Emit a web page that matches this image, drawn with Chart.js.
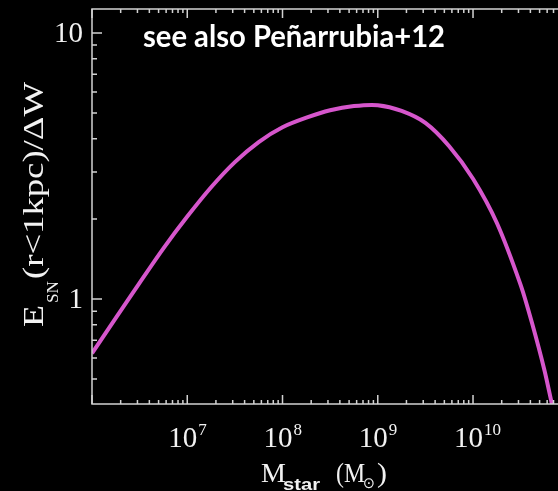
<!DOCTYPE html>
<html>
<head>
<meta charset="utf-8">
<script src="https://cdn.jsdelivr.net/npm/chart.js@4/dist/chart.umd.min.js"></script>
<style>
  html, body { margin: 0; padding: 0; background: #000; }
  #wrap { width: 558px; height: 491px; position: relative; }
</style>
</head>
<body>
<div id="wrap"><canvas id="chart_esn"></canvas></div>
<script>
// stellar mass (Msun) and E_SN(r<1kpc)/dW
var stellarMass = [1e6, 1.78e6, 3.16e6, 5.62e6, 1e7, 1.78e7, 3.16e7, 5.62e7, 1e8, 1.78e8, 3.16e8,
  5.62e8, 1e9, 1.78e9, 3.16e9, 5.62e9, 1e10, 1.78e10, 3.16e10, 4.17e10, 5.62e10, 6.76e10]
var energyRatio = [0.625, 0.85, 1.15, 1.55, 2.04, 2.63, 3.27, 3.89, 4.42, 4.80, 5.12,
  5.31, 5.35, 5.09, 4.59, 3.75, 2.83, 1.93, 1.13, 0.81, 0.54, 0.40]
var xTickLabels = [[1e7, '7'], [1e8, '8'], [1e9, '9'], [1e10, '10']]
var yTickLabels = [10, 1]
var noteText = 'see also Peñarrubia+12'

var axisColor = '#d2d2d2'
var textColor = '#f2f2f2'
var serif = '"Liberation Serif", "DejaVu Serif", serif'

// draw text squeezed or stretched to a given width
function fitText(ctx, str, x, y, w) {
  var m = ctx.measureText(str).width
  ctx.save()
  ctx.translate(x, y)
  ctx.scale(w / m, 1)
  ctx.fillText(str, 0, 0)
  ctx.restore()
}

var framePlugin = {
  id: 'frame',
  afterDraw: function (chart) {
    var ctx = chart.ctx
    var a = chart.chartArea
    var xs = chart.scales.x
    var ys = chart.scales.y
    ctx.save()
    ctx.strokeStyle = axisColor
    ctx.lineWidth = 1.5
    ctx.beginPath()
    ctx.moveTo(a.right + 2, a.top); ctx.lineTo(a.left, a.top)
    ctx.lineTo(a.left, a.bottom); ctx.lineTo(a.right + 2, a.bottom)
    ctx.stroke()

    // inward ticks, log minor ticks
    ctx.beginPath()
    for (var e = 6; e <= 10; e++) {
      for (var m = 1; m < 10; m++) {
        var v = m * Math.pow(10, e)
        if (v < xs.min || v > xs.max) continue
        var px = xs.getPixelForValue(v)
        var len = m === 1 ? 9 : 4
        ctx.moveTo(px, a.bottom); ctx.lineTo(px, a.bottom - len)
        ctx.moveTo(px, a.top); ctx.lineTo(px, a.top + len)
      }
    }
    for (var e2 = -1; e2 <= 1; e2++) {
      for (var m2 = 1; m2 < 10; m2++) {
        var v2 = m2 * Math.pow(10, e2)
        if (v2 < ys.min || v2 > ys.max) continue
        var py = ys.getPixelForValue(v2)
        var len2 = m2 === 1 ? 10 : 5
        ctx.moveTo(a.left, py); ctx.lineTo(a.left + len2, py)
      }
    }
    ctx.stroke()

    ctx.fillStyle = textColor

    // y tick labels
    ctx.font = '29px ' + serif
    ctx.textAlign = 'right'
    ctx.textBaseline = 'middle'
    yTickLabels.forEach(function (t) {
      ctx.fillText(String(t), a.left - 9, ys.getPixelForValue(t) + 1)
    })

    // x tick labels 10^n
    ctx.textBaseline = 'alphabetic'
    xTickLabels.forEach(function (t) {
      var px = xs.getPixelForValue(t[0])
      ctx.font = '29px ' + serif
      ctx.textAlign = 'right'
      ctx.fillText('10', px + 10, 447)
      ctx.font = '17px ' + serif
      ctx.textAlign = 'left'
      ctx.fillText(t[1], px + 11, 435)
    })

    // x title: M_star (M_sun)
    ctx.textAlign = 'left'
    ctx.font = '28px ' + serif
    ctx.fillText('M', 261, 482)
    ctx.font = 'bold 16px "Liberation Sans", Arial, sans-serif'
    fitText(ctx, 'star', 283, 490, 37)
    ctx.font = '28px ' + serif
    fitText(ctx, '(M', 336, 482, 29)
    fitText(ctx, ')', 377, 482, 10)
    ctx.font = '15px "DejaVu Sans", sans-serif'
    fitText(ctx, '⊙', 363, 488, 12)

    // y title: E_SN(r<1kpc)/dW, rotated
    ctx.save()
    ctx.translate(43, 327)
    ctx.rotate(-Math.PI / 2)
    ctx.font = '29px ' + serif
    fitText(ctx, 'E', 0, 0, 22)
    ctx.font = '17px ' + serif
    fitText(ctx, 'SN', 24, 15, 22)
    ctx.font = '29px ' + serif
    fitText(ctx, '(r<1kpc)/ΔW', 48, 0, 197)
    ctx.restore()

    // note in the upper part
    ctx.font = 'bold 30px Lato, "Noto Sans", sans-serif'
    ctx.fillStyle = '#ffffff'
    fitText(ctx, noteText, 143, 47, 302)
    ctx.restore()
  }
}

var chart_esn = document.getElementById('chart_esn').getContext('2d')

var mychart = new Chart(chart_esn, {
  type: 'line',
  data: {
    datasets: [{
      data: stellarMass.map(function (m, i) { return {x: m, y: energyRatio[i]} }),
      borderColor: '#d656cc',
      borderWidth: 4,
      pointRadius: 0,
      fill: false,
      tension: 0.25
    }]
  },
  options: {
    responsive: true,
    maintainAspectRatio: false,
    animation: false,
    layout: {padding: {top: 9, right: 0, left: 0, bottom: 0}},
    plugins: {legend: {display: false}, tooltip: {enabled: false}},
    scales: {
      x: {
        type: 'logarithmic',
        min: 1e6,
        max: 7.8e10,
        grid: {display: false},
        border: {display: false},
        ticks: {display: false},
        afterFit: function (s) { s.height = 87 }
      },
      y: {
        type: 'logarithmic',
        min: 0.403,
        max: 12.3,
        grid: {display: false},
        border: {display: false},
        ticks: {display: false},
        afterFit: function (s) { s.width = 92 }
      }
    }
  },
  plugins: [framePlugin]
})
</script>
</body>
</html>
